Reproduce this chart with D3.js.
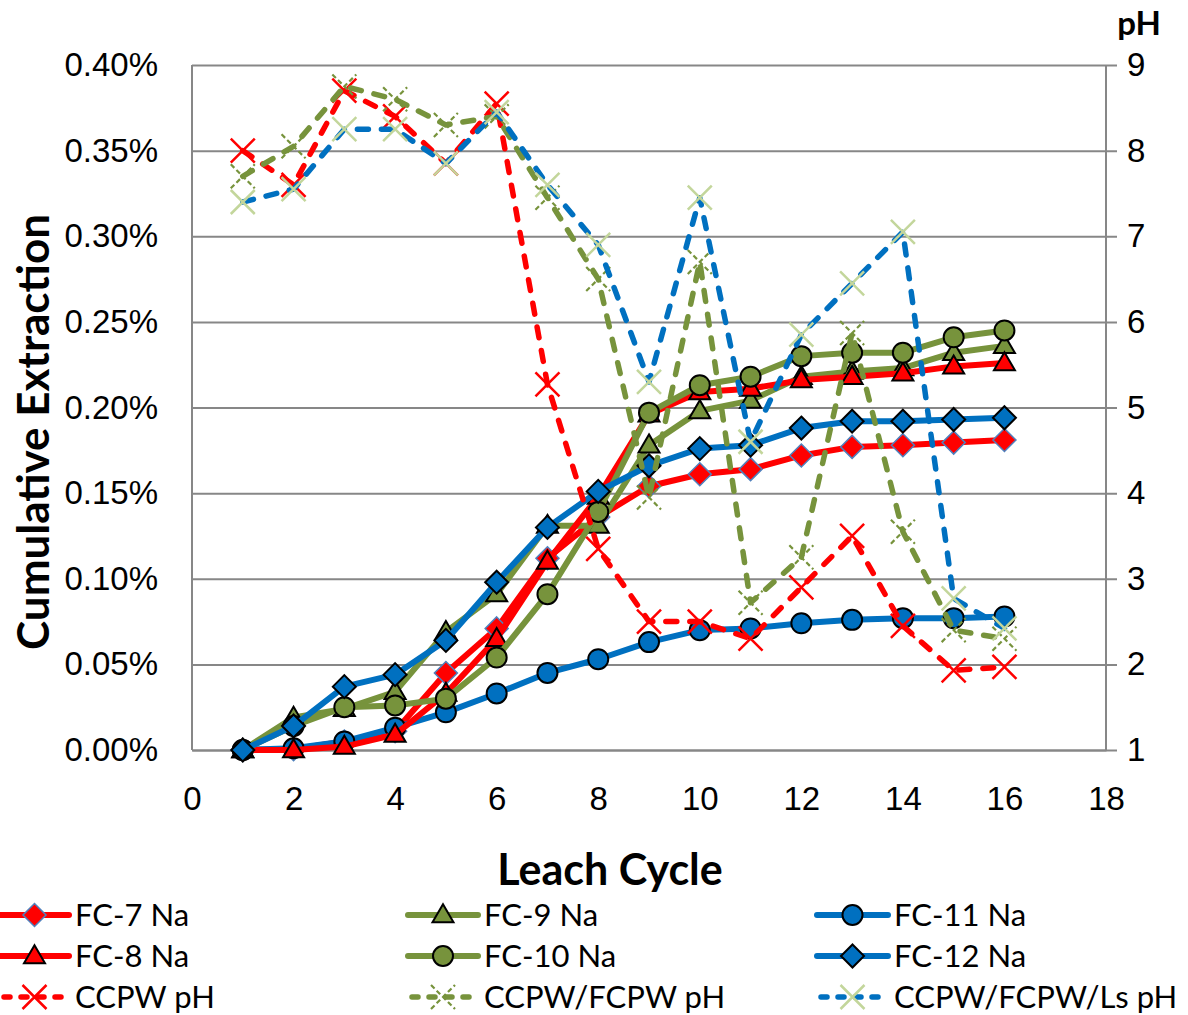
<!DOCTYPE html>
<html>
<head>
<meta charset="utf-8">
<script src="https://cdn.jsdelivr.net/npm/d3@7"></script>
<style>
  html, body { margin: 0; padding: 0; background: #fff; }
  svg { display: block; font-family: Lato, "Noto Sans", sans-serif; }
</style>
</head>
<body>
<svg id="chart" width="1188" height="1015"></svg>
<script>
// Leach cycles
const cycles = [1, 2, 3, 4, 5, 6, 7, 8, 9, 10, 11, 12, 13, 14, 15, 16];

// Cumulative Na extraction, in percent
const fc7Na  = [0, 0.0005, 0.005, 0.011, 0.045, 0.071, 0.112, 0.136, 0.154, 0.161, 0.164, 0.172, 0.177, 0.178, 0.1795, 0.181];
const fc8Na  = [0, 0, 0.002, 0.009, 0.033, 0.065, 0.110, 0.148, 0.196, 0.209, 0.211, 0.216, 0.218, 0.220, 0.224, 0.226];
const fc9Na  = [0, 0.019, 0.024, 0.034, 0.069, 0.091, 0.131, 0.131, 0.178, 0.198, 0.204, 0.218, 0.221, 0.223, 0.232, 0.236];
const fc10Na = [0, 0.014, 0.025, 0.026, 0.030, 0.054, 0.091, 0.139, 0.197, 0.213, 0.218, 0.230, 0.232, 0.232, 0.241, 0.245];
const fc11Na = [0, 0.001, 0.005, 0.013, 0.022, 0.033, 0.045, 0.053, 0.063, 0.070, 0.071, 0.074, 0.076, 0.077, 0.077, 0.078];
const fc12Na = [0, 0.014, 0.037, 0.044, 0.064, 0.098, 0.130, 0.151, 0.166, 0.176, 0.178, 0.188, 0.192, 0.192, 0.193, 0.194];

// Leachate pH
const ccpwPH       = [8.0, 7.6, 8.7, 8.4, 7.85, 8.55, 5.27, 3.35, 2.5, 2.5, 2.3, 2.9, 3.5, 2.45, 1.93, 1.97];
const ccpwFcpwPH   = [7.7, 8.05, 8.75, 8.6, 8.3, 8.4, 7.45, 6.5, 3.95, 6.7, 2.72, 3.25, 5.87, 3.55, 2.4, 2.3];
const ccpwFcpwLsPH = [7.4, 7.55, 8.25, 8.25, 7.85, 8.45, 7.6, 6.9, 5.3, 7.45, 4.6, 5.85, 6.45, 7.05, 2.77, 2.42];

// Axis ticks
const xTicks  = [0, 2, 4, 6, 8, 10, 12, 14, 16, 18];
const yTicks  = [0, 0.05, 0.10, 0.15, 0.20, 0.25, 0.30, 0.35, 0.40];
const phTicks = [1, 2, 3, 4, 5, 6, 7, 8, 9];

const RED = "#ff0000", OLIVE = "#77933c", BLUE = "#0070c0", LIGHT = "#c3d69b";

// Series in legend / drawing order
const series = [
  { name: "FC-7 Na",  values: fc7Na,  axis: "L", color: RED,   marker: "diamond",  mFill: RED,   mStroke: "#4f81bd", mSw: 1.5 },
  { name: "FC-9 Na",  values: fc9Na,  axis: "L", color: OLIVE, marker: "triangle", mFill: OLIVE, mStroke: "#000", mSw: 2 },
  { name: "FC-11 Na", values: fc11Na, axis: "L", color: BLUE,  marker: "circle",   mFill: BLUE,  mStroke: "#000", mSw: 2 },
  { name: "FC-8 Na",  values: fc8Na,  axis: "L", color: RED,   marker: "triangle", mFill: RED,   mStroke: "#000", mSw: 2 },
  { name: "FC-10 Na", values: fc10Na, axis: "L", color: OLIVE, marker: "circle",   mFill: OLIVE, mStroke: "#000", mSw: 2 },
  { name: "FC-12 Na", values: fc12Na, axis: "L", color: BLUE,  marker: "diamond",  mFill: BLUE,  mStroke: "#000", mSw: 2 },
  { name: "CCPW pH",            values: ccpwPH,       axis: "R", color: RED,   marker: "x", mStroke: RED,   mSw: 2.5, mDash: null },
  { name: "CCPW/FCPW pH",       values: ccpwFcpwPH,   axis: "R", color: OLIVE, marker: "x", mStroke: OLIVE, mSw: 2.2, mDash: "5 3" },
  { name: "CCPW/FCPW/Ls pH",    values: ccpwFcpwLsPH, axis: "R", color: BLUE,  marker: "x", mStroke: LIGHT, mSw: 2.5, mDash: null }
];

const svg = d3.select("#chart");
const plotLeft = 192, plotRight = 1106, plotTop = 65, plotBottom = 750;

const x  = d3.scaleLinear().domain([0, 18]).range([plotLeft, plotRight]);
const yL = d3.scaleLinear().domain([0, 0.40]).range([plotBottom, plotTop]);
const yR = d3.scaleLinear().domain([1, 9]).range([plotBottom, plotTop]);

const GRID = "#878787";

// Left axis with horizontal gridlines reaching past the right axis
const gLeft = svg.append("g").attr("transform", `translate(${plotLeft},0)`)
  .call(d3.axisLeft(yL).tickValues(yTicks).tickSizeInner(-(1117 - plotLeft)).tickSizeOuter(0)
        .tickPadding(34).tickFormat(d => d.toFixed(2) + "%"));
gLeft.select(".domain").remove();
gLeft.selectAll(".tick line").attr("stroke", GRID).attr("stroke-width", 2);
gLeft.selectAll(".tick text").attr("font-size", 33).attr("fill", "#000");

// Left and right axis lines
svg.append("line").attr("x1", plotLeft).attr("x2", plotLeft).attr("y1", plotTop).attr("y2", plotBottom)
  .attr("stroke", GRID).attr("stroke-width", 2);
svg.append("line").attr("x1", plotRight).attr("x2", plotRight).attr("y1", plotTop).attr("y2", plotBottom)
  .attr("stroke", GRID).attr("stroke-width", 2);

// Right pH axis
const gRight = svg.append("g").attr("transform", `translate(${plotRight},0)`)
  .call(d3.axisRight(yR).tickValues(phTicks).tickSize(0).tickPadding(21).tickFormat(d3.format("d")));
gRight.select(".domain").remove();
gRight.selectAll(".tick text").attr("font-size", 33).attr("fill", "#000");

// Bottom axis
const gBottom = svg.append("g").attr("transform", `translate(0,${plotBottom})`)
  .call(d3.axisBottom(x).tickValues(xTicks).tickSize(0).tickPadding(37).tickFormat(d3.format("d")));
gBottom.select(".domain").attr("stroke", GRID).attr("stroke-width", 2);
gBottom.selectAll(".tick text").attr("font-size", 33).attr("fill", "#000");

// Axis titles
svg.append("text").attr("x", 610).attr("y", 885).attr("text-anchor", "middle")
  .attr("font-size", 43).attr("font-weight", "bold").text("Leach Cycle");
svg.append("text").attr("transform", "translate(49,432) rotate(-90)").attr("text-anchor", "middle")
  .attr("font-size", 44).attr("font-weight", "bold").text("Cumulative Extraction");
svg.append("text").attr("x", 1139).attr("y", 35).attr("text-anchor", "middle")
  .attr("font-size", 33).attr("font-weight", "bold").text("pH");

// Marker drawing
function drawMarker(g, s, cx, cy) {
  if (s.marker === "circle") {
    g.append("circle").attr("cx", cx).attr("cy", cy).attr("r", 10)
      .attr("fill", s.mFill).attr("stroke", s.mStroke).attr("stroke-width", s.mSw);
  } else if (s.marker === "diamond") {
    const r = 11.5;
    g.append("path").attr("d", `M${cx},${cy - r}L${cx + r},${cy}L${cx},${cy + r}L${cx - r},${cy}Z`)
      .attr("fill", s.mFill).attr("stroke", s.mStroke).attr("stroke-width", s.mSw);
  } else if (s.marker === "triangle") {
    const w = 10.5, h = 18;
    g.append("path").attr("d", `M${cx},${cy - h * 0.6}L${cx + w},${cy + h * 0.4}L${cx - w},${cy + h * 0.4}Z`)
      .attr("fill", s.mFill).attr("stroke", s.mStroke).attr("stroke-width", s.mSw).attr("stroke-linejoin", "miter");
  } else if (s.marker === "x") {
    const r = 12;
    const p = g.append("path").attr("d", `M${cx - r},${cy - r}L${cx + r},${cy + r}M${cx - r},${cy + r}L${cx + r},${cy - r}`)
      .attr("fill", "none").attr("stroke", s.mStroke).attr("stroke-width", s.mSw);
    if (s.mDash) p.attr("stroke-dasharray", s.mDash);
  }
}

const plot = svg.append("g");
series.forEach(s => {
  const yS = s.axis === "L" ? yL : yR;
  const pts = cycles.map((c, i) => [x(c), yS(s.values[i])]);
  const line = d3.line();
  const path = plot.append("path").attr("d", line(pts)).attr("fill", "none")
    .attr("stroke", s.color).attr("stroke-linejoin", "round");
  if (s.axis === "L") {
    path.attr("stroke-width", 6).attr("stroke-linecap", "round");
  } else {
    path.attr("stroke-width", 5.5).attr("stroke-linecap", "round").attr("stroke-dasharray", "11 13");
  }
  const mg = plot.append("g");
  pts.forEach(p => drawMarker(mg, s, p[0], p[1]));
});

// Legend: three columns, filled row by row
const colLine = [[0, 69], [408, 478], [817, 888]];
const rowY = [915, 956, 997];
series.forEach((s, i) => {
  const col = i % 3, row = Math.floor(i / 3);
  const [x0, x1] = colLine[col];
  const cy = rowY[row];
  const g = svg.append("g");
  const ln = g.append("line").attr("x1", x0).attr("x2", x1).attr("y1", cy).attr("y2", cy)
    .attr("stroke", s.color).attr("stroke-linecap", "round");
  if (s.axis === "L") {
    ln.attr("stroke-width", 6);
  } else {
    ln.attr("stroke-width", 5.5).attr("stroke-dasharray", "6 11");
    ln.attr("x1", x0 + 4).attr("x2", x1 - 6);
  }
  drawMarker(g, s, (x0 + x1) / 2, cy);
  g.append("text").attr("x", x1 + 6).attr("y", cy).attr("dy", "0.35em")
    .attr("font-size", 31).text(s.name);
});
</script>
</body>
</html>
